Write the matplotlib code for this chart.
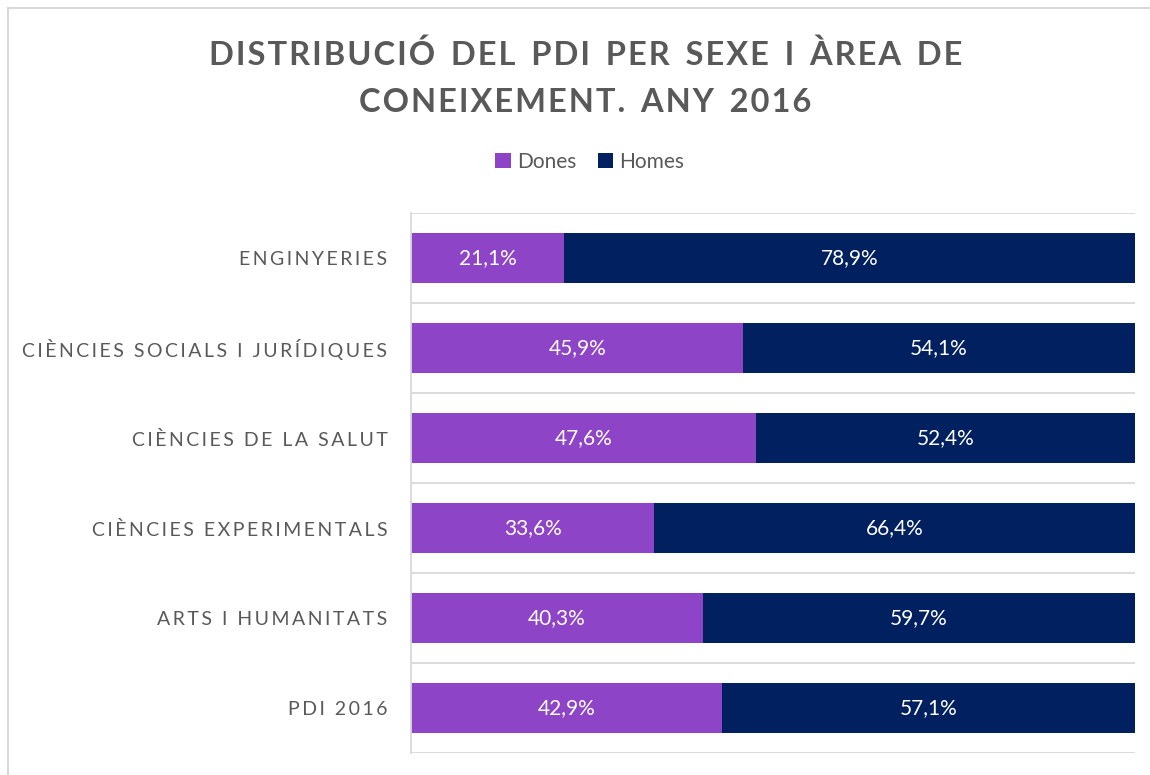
import matplotlib.pyplot as plt
from matplotlib.lines import Line2D

categories = ["ENGINYERIES", "CIÈNCIES SOCIALS I JURÍDIQUES", "CIÈNCIES DE LA SALUT",
              "CIÈNCIES EXPERIMENTALS", "ARTS I HUMANITATS", "PDI 2016"]
dones = [21.1, 45.9, 47.6, 33.6, 40.3, 42.9]
homes = [78.9, 54.1, 52.4, 66.4, 59.7, 57.1]
series_names = ["Dones", "Homes"]
colors = ["#8E44C6", "#002060"]

plt.rcParams['font.family'] = ['Lato', 'DejaVu Sans']

def spaced(s, sep='\u2009'):
    # fake letter spacing
    return sep.join(s).replace(sep + ' ' + sep, '  ')

fig = plt.figure(figsize=(11.5, 7.75), dpi=100)
ax = fig.add_axes([411/1150, 1-753/775, (1135-411)/1150, (753-213)/775])

y = list(range(len(categories)))
h = 0.556
b1 = ax.barh(y, dones, height=h, color=colors[0], label=series_names[0])
b2 = ax.barh(y, homes, left=dones, height=h, color=colors[1], label=series_names[1])
for bars, vals, lefts in [(b1, dones, [0]*len(dones)), (b2, homes, dones)]:
    for yi, v, l in zip(y, vals, lefts):
        ax.text(l + v/2, yi, f"{v:.1f}%".replace('.', ','), ha='center', va='center',
                color='white', fontsize=15)

ax.set_xlim(0, 100)
ax.set_ylim(len(categories)-0.5, -0.5)
ax.set_yticks(y)
ax.set_yticklabels([spaced(c) for c in categories], fontsize=14, color='#595959')
ax.tick_params(axis='y', length=0, pad=17)
ax.set_xticks([])
for yy in [i - 0.5 for i in range(len(categories)+1)]:
    ax.axhline(yy, color='#d9d9d9', lw=1.3, zorder=0)
for s in ['top', 'right', 'bottom']:
    ax.spines[s].set_visible(False)
ax.spines['left'].set_color('#d9d9d9')
ax.spines['left'].set_linewidth(1.3)

fig.text(0.509, 1-55/775, spaced("DISTRIBUCIÓ DEL PDI PER SEXE I ÀREA DE", '\u200a'), ha='center', va='center',
         fontsize=23.5, fontweight='bold', color='#595959')
fig.text(0.509, 1-102/775, spaced("CONEIXEMENT. ANY 2016", '\u200a'), ha='center', va='center',
         fontsize=23.5, fontweight='bold', color='#595959')

fig.legend(handles=[b1, b2], loc='center', bbox_to_anchor=(0.513, 1-162/775), ncol=2,
           frameon=False, fontsize=15, handlelength=0.75, handleheight=0.75,
           handletextpad=0.3, columnspacing=1.0, labelcolor='#595959')

fig.add_artist(Line2D([8/1150, 8/1150], [0, 1-8/775], color='#d9d9d9', lw=1.5))
fig.add_artist(Line2D([8/1150, 1], [1-8/775, 1-8/775], color='#d9d9d9', lw=1.5))

fig.savefig("out.png", dpi=100)
